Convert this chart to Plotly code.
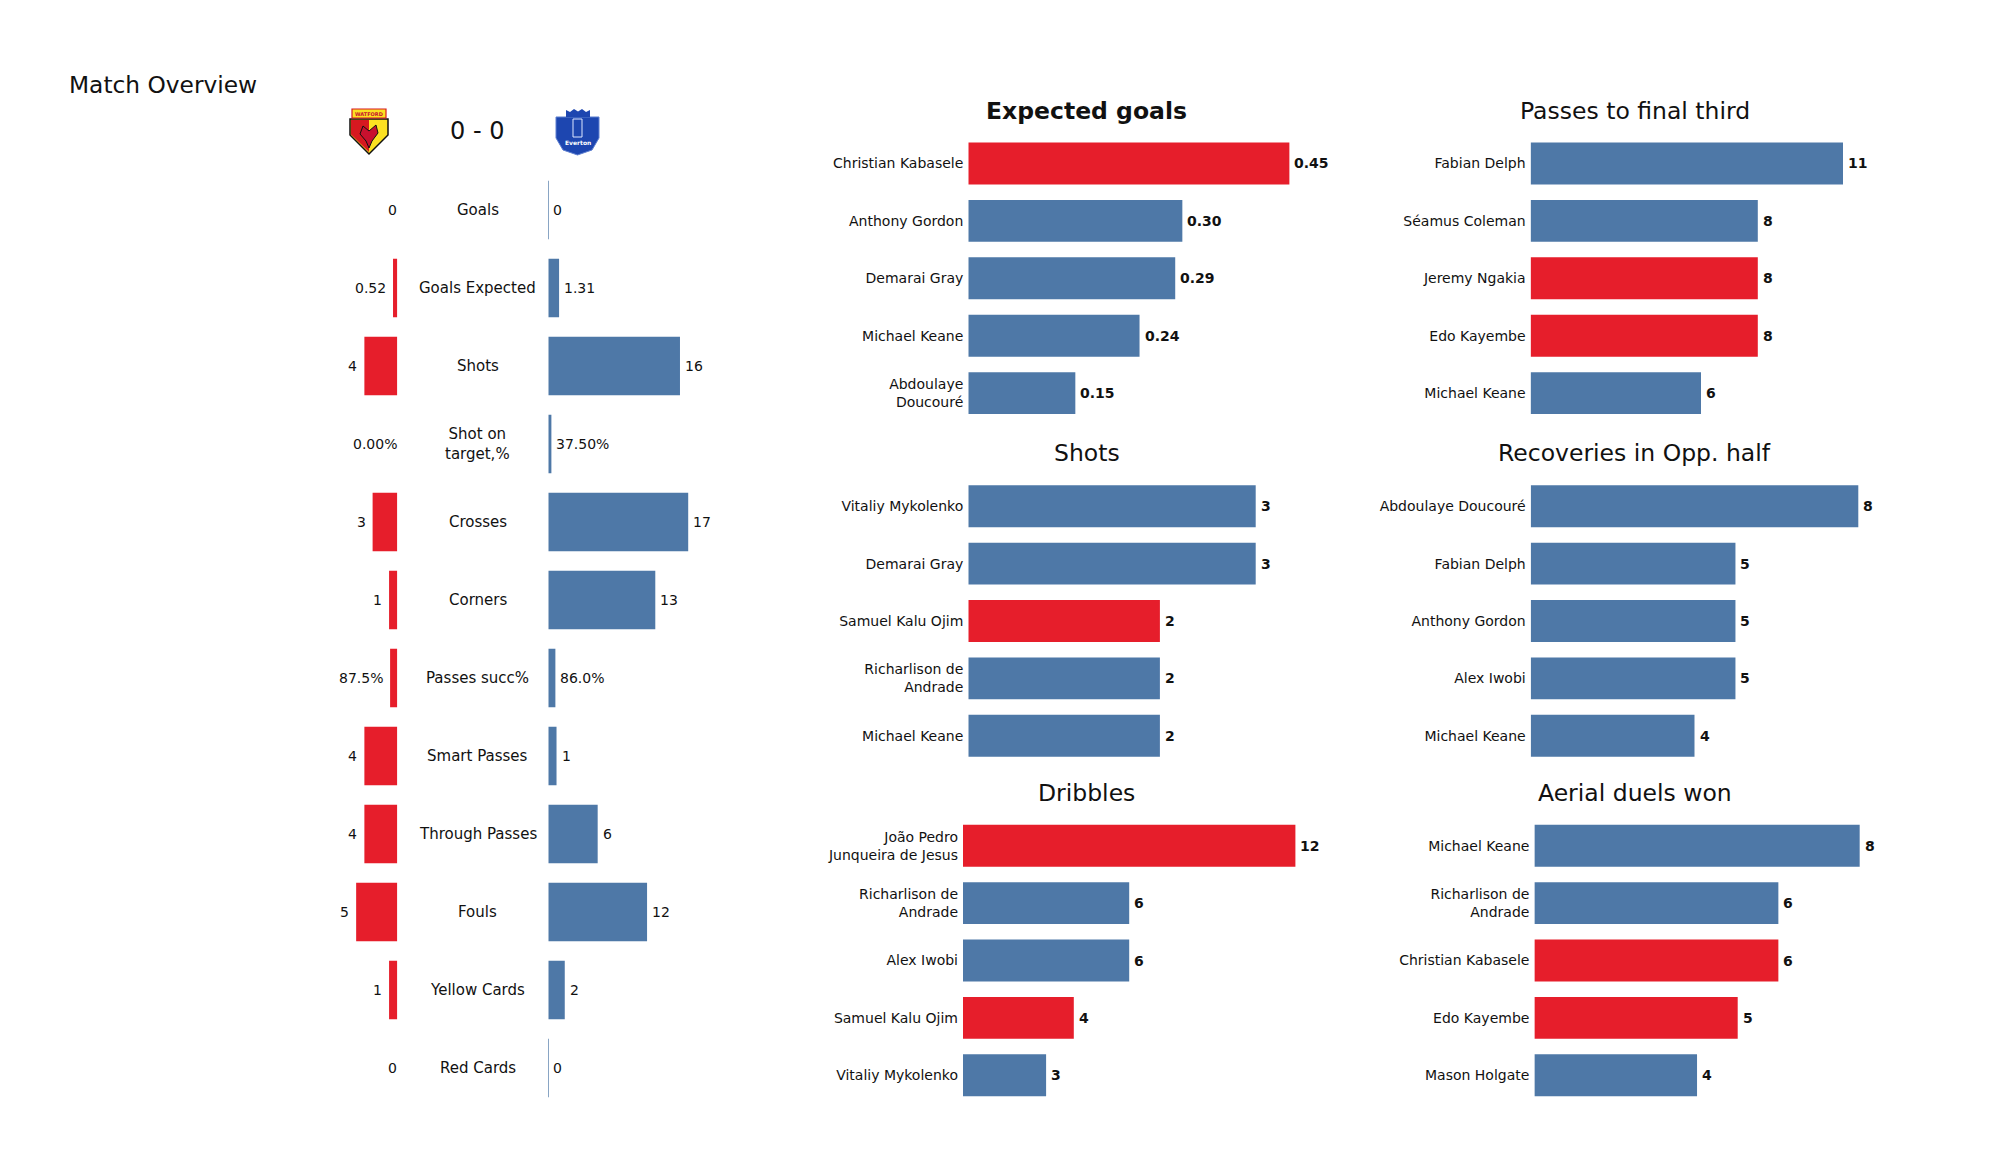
import plotly.graph_objects as go

# ---------------- data ----------------
home_team = "Watford"
away_team = "Everton"
home_goals = 0
away_goals = 0

stat_names = ["Goals", "Goals Expected", "Shots", "Shot on\ntarget,%", "Crosses", "Corners",
              "Passes succ%", "Smart Passes", "Through Passes", "Fouls", "Yellow Cards", "Red Cards"]
home_stats = [0, 0.52, 4, 0.0, 3, 1, 0.875, 4, 4, 5, 1, 0]
away_stats = [0, 1.31, 16, 0.375, 17, 13, 0.86, 1, 6, 12, 2, 0]
stat_formats = ["{:.0f}", "{:.2f}", "{:.0f}", "{:.2%}", "{:.0f}", "{:.0f}",
                "{:.1%}", "{:.0f}", "{:.0f}", "{:.0f}", "{:.0f}", "{:.0f}"]

xg_players = ["Christian Kabasele", "Anthony Gordon", "Demarai Gray", "Michael Keane", "Abdoulaye\nDoucouré"]
xg_values = [0.45, 0.30, 0.29, 0.24, 0.15]
xg_teams = ["Watford", "Everton", "Everton", "Everton", "Everton"]

pft_players = ["Fabian Delph", "Séamus Coleman", "Jeremy Ngakia", "Edo Kayembe", "Michael Keane"]
pft_values = [11, 8, 8, 8, 6]
pft_teams = ["Everton", "Everton", "Watford", "Watford", "Everton"]

shots_players = ["Vitaliy Mykolenko", "Demarai Gray", "Samuel Kalu Ojim", "Richarlison de\nAndrade", "Michael Keane"]
shots_values = [3, 3, 2, 2, 2]
shots_teams = ["Everton", "Everton", "Watford", "Everton", "Everton"]

rec_players = ["Abdoulaye Doucouré", "Fabian Delph", "Anthony Gordon", "Alex Iwobi", "Michael Keane"]
rec_values = [8, 5, 5, 5, 4]
rec_teams = ["Everton", "Everton", "Everton", "Everton", "Everton"]

drb_players = ["João Pedro\nJunqueira de Jesus", "Richarlison de\nAndrade", "Alex Iwobi", "Samuel Kalu Ojim", "Vitaliy Mykolenko"]
drb_values = [12, 6, 6, 4, 3]
drb_teams = ["Watford", "Everton", "Everton", "Watford", "Everton"]

aer_players = ["Michael Keane", "Richarlison de\nAndrade", "Christian Kabasele", "Edo Kayembe", "Mason Holgate"]
aer_values = [8, 6, 6, 5, 4]
aer_teams = ["Everton", "Everton", "Watford", "Watford", "Everton"]

# ---------------- style / layout ----------------
W, H = 2000, 1175
RED = "#E61E2B"
BLUE = "#4E78A7"
TXT = "#111111"
FONT = "DejaVu Sans"


def fx(p):
    return p / W


def fy(p):
    return 1 - p / H


fig = go.Figure()
layout = dict(width=W, height=H, margin=dict(l=0, r=0, t=0, b=0),
              paper_bgcolor="white", plot_bgcolor="white", showlegend=False,
              font=dict(family=FONT, color=TXT), bargap=0.25)
annotations = []
shapes = []

# ---------- left overview panel ----------
n_stats = len(stat_names)
idx = list(range(n_stats))
row_px, row0 = 78.0, 210.0
ydom = [fy(row0 + (n_stats - 0.5) * row_px), fy(row0 - 0.5 * row_px)]
ppu_left = 8.23
span = 20
home_right, away_left = 397.3, 548.3

fig.add_trace(go.Bar(x=home_stats, y=idx, orientation="h", xaxis="x", yaxis="y",
                     width=0.75, marker=dict(color=RED, line=dict(width=0)), hoverinfo="skip"))
fig.add_trace(go.Bar(x=away_stats, y=idx, orientation="h", xaxis="x2", yaxis="y2",
                     width=0.75, marker=dict(color=BLUE, line=dict(width=0)), hoverinfo="skip"))
layout["xaxis"] = dict(domain=[fx(home_right - span * ppu_left), fx(home_right)], range=[span, 0],
                       visible=False, anchor="y")
layout["xaxis2"] = dict(domain=[fx(away_left), fx(away_left + span * ppu_left)], range=[0, span],
                        visible=False, anchor="y2")
for ax in ("yaxis", "yaxis2"):
    layout[ax] = dict(domain=ydom, range=[n_stats - 0.5, -0.5], visible=False)
layout["yaxis"]["anchor"] = "x"
layout["yaxis2"]["anchor"] = "x2"

for i in idx:
    annotations.append(dict(xref="paper", yref="y", x=fx(477.5), y=i,
                            text=stat_names[i].replace("\n", "<br>"), showarrow=False,
                            xanchor="center", yanchor="middle", font=dict(size=15, color=TXT)))
    hv, av = home_stats[i], away_stats[i]
    annotations.append(dict(xref="x", yref="y", x=hv, y=i, text=stat_formats[i].format(hv),
                            showarrow=False, xanchor="right", yanchor="middle",
                            xshift=-5 if hv > 0 else 1.5, font=dict(size=14, color=TXT)))
    annotations.append(dict(xref="x2", yref="y2", x=av, y=i, text=stat_formats[i].format(av),
                            showarrow=False, xanchor="left", yanchor="middle",
                            xshift=3, font=dict(size=14, color=TXT)))
    if av == 0:
        shapes.append(dict(type="line", xref="x2", yref="y2", x0=0, x1=0, y0=i - 0.375, y1=i + 0.375,
                           line=dict(color=BLUE, width=1.3)))

# title and score
annotations.append(dict(xref="paper", yref="paper", x=fx(67), y=fy(84), text="Match Overview",
                        showarrow=False, xanchor="left", yanchor="middle", font=dict(size=23.3, color=TXT)))
annotations.append(dict(xref="paper", yref="paper", x=fx(476.5), y=fy(131), text=f"{home_goals} - {away_goals}",
                        showarrow=False, xanchor="center", yanchor="middle", font=dict(size=24, color=TXT)))


# ---------- logos (simple drawn crests) ----------
def path(points, close=True):
    s = "M " + " L ".join(f"{fx(x):.5f},{fy(y):.5f}" for x, y in points)
    return s + (" Z" if close else "")


# Watford crest
shapes.append(dict(type="path", xref="paper", yref="paper",
                   path=path([(350, 119), (388, 119), (388, 135), (369, 154), (350, 135)]),
                   fillcolor="#FBE122", line=dict(color="#111111", width=1.5)))
shapes.append(dict(type="path", xref="paper", yref="paper",
                   path=path([(351, 120), (369, 120), (369, 152), (351, 134.5)]),
                   fillcolor="#D71920", line=dict(width=0)))
shapes.append(dict(type="path", xref="paper", yref="paper",
                   path=path([(363, 126), (369, 131), (376, 125), (378, 133), (372, 141), (369, 148),
                              (366, 141), (360, 134)]),
                   fillcolor="#C8102E", line=dict(color="#111111", width=1)))
shapes.append(dict(type="rect", xref="paper", yref="paper", x0=fx(352), x1=fx(386), y0=fy(118), y1=fy(109),
                   fillcolor="#FBE122", line=dict(color="#D71920", width=1.2)))
annotations.append(dict(xref="paper", yref="paper", x=fx(369), y=fy(113.5), text="<b>WATFORD</b>",
                        showarrow=False, font=dict(size=5, color="#C8102E"), xanchor="center", yanchor="middle"))

# Everton crest
shapes.append(dict(type="path", xref="paper", yref="paper",
                   path=path([(556, 117), (599, 117), (599, 138), (592, 150), (577.5, 155), (563, 150), (556, 138)]),
                   fillcolor="#1D46B0", line=dict(color="#5E7FD0", width=1)))
shapes.append(dict(type="path", xref="paper", yref="paper",
                   path=path([(566, 117), (566, 110), (570, 112), (574, 109), (578, 111.5), (582, 109),
                              (586, 112), (590, 110), (590, 117)]),
                   fillcolor="#1D46B0", line=dict(width=0)))
shapes.append(dict(type="rect", xref="paper", yref="paper", x0=fx(573), x1=fx(582), y0=fy(137), y1=fy(119),
                   fillcolor="rgba(0,0,0,0)", line=dict(color="#DDE6FF", width=1)))
annotations.append(dict(xref="paper", yref="paper", x=fx(577.5), y=fy(142), text="<b>Everton</b>",
                        showarrow=False, font=dict(size=6, color="white"), xanchor="center", yanchor="middle"))

# ---------- player panels ----------
panels = [
    ("<b>Expected goals</b>", xg_players, xg_values, xg_teams, "{:.2f}"),
    ("Passes to final third", pft_players, pft_values, pft_teams, "{:.0f}"),
    ("Shots", shots_players, shots_values, shots_teams, "{:.0f}"),
    ("Recoveries in Opp. half", rec_players, rec_values, rec_teams, "{:.0f}"),
    ("Dribbles", drb_players, drb_values, drb_teams, "{:.0f}"),
    ("Aerial duels won", aer_players, aer_values, aer_teams, "{:.0f}"),
]
# (bar start px, px per unit, first row centre px, title x px, title y px)
geometry = [
    (968.3, 713.5, 163.5, 1086.7, 111.0),
    (1530.6, 28.4, 163.5, 1634.5, 111.0),
    (968.3, 95.8, 506.2, 1086.7, 453.3),
    (1530.7, 40.95, 506.2, 1634.5, 453.3),
    (963.0, 27.7, 845.7, 1086.7, 793.4),
    (1534.4, 40.66, 845.7, 1634.5, 793.4),
]
step = 57.4

for k, ((title, players, values, teams, fmt), (xs, ppu, c0, tx, ty)) in enumerate(zip(panels, geometry)):
    n = k + 3
    names = [p.replace("\n", "<br>") for p in players]
    colors = [RED if t == home_team else BLUE for t in teams]
    fig.add_trace(go.Bar(x=values, y=names, orientation="h", xaxis=f"x{n}", yaxis=f"y{n}",
                         width=0.73, marker=dict(color=colors, line=dict(width=0)), hoverinfo="skip"))
    R = max(values) * 1.05
    layout[f"xaxis{n}"] = dict(domain=[fx(xs), fx(xs + R * ppu)], range=[0, R], visible=False, anchor=f"y{n}")
    nn = len(values)
    layout[f"yaxis{n}"] = dict(domain=[fy(c0 + (nn - 0.5) * step), fy(c0 - 0.5 * step)],
                               range=[nn - 0.5, -0.5], type="category", anchor=f"x{n}",
                               showgrid=False, zeroline=False, showline=False, ticks="",
                               ticklabelstandoff=4,
                               tickfont=dict(size=14, color=TXT, family=FONT))
    for name, v in zip(names, values):
        annotations.append(dict(xref=f"x{n}", yref=f"y{n}", x=v, y=name, text="<b>" + fmt.format(v) + "</b>",
                                showarrow=False, xanchor="left", yanchor="middle", xshift=3,
                                font=dict(size=14, color=TXT)))
    annotations.append(dict(xref="paper", yref="paper", x=fx(tx), y=fy(ty), text=title, showarrow=False,
                            xanchor="center", yanchor="middle", font=dict(size=23.5, color=TXT)))

layout["annotations"] = annotations
layout["shapes"] = shapes
fig.update_layout(**layout)
fig.write_html("out.html", config={"displayModeBar": False},
               post_script="document.body.style.margin='0px';document.body.style.overflow='hidden';")
